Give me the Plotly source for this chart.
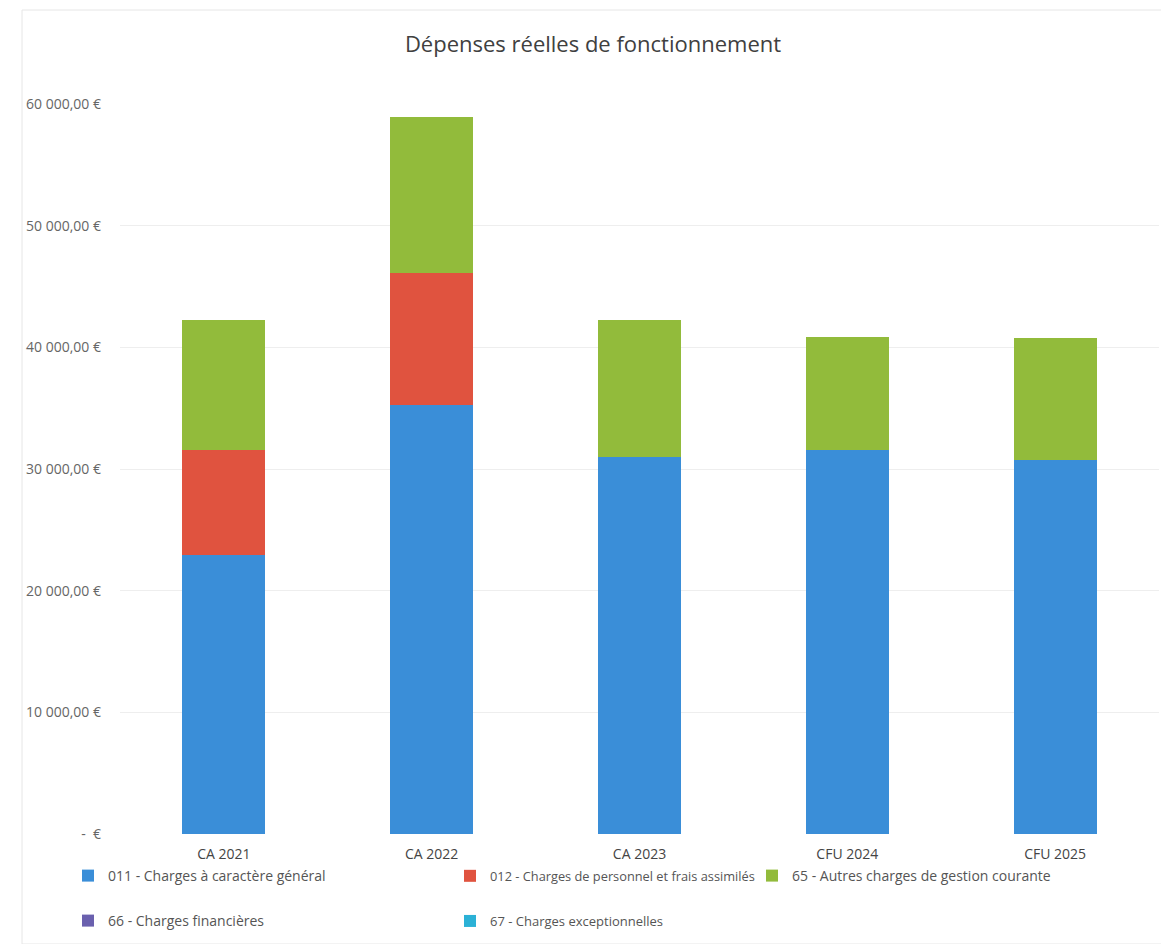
import plotly.graph_objects as go

categories = ["CA 2021", "CA 2022", "CA 2023", "CFU 2024", "CFU 2025"]
series_names = [
    "011 - Charges à caractère général",
    "012 - Charges de personnel et frais assimilés",
    "65 - Autres charges de gestion courante",
    "66 - Charges financières",
    "67 - Charges exceptionnelles",
]
v011 = [22900, 35300, 30950, 31550, 30700]
v012 = [8650, 10800, 0, 0, 0]
v65 = [10700, 12800, 11300, 9300, 10100]
v66 = [0, 0, 0, 0, 0]
v67 = [0, 0, 0, 0, 0]
tick_vals = [0, 10000, 20000, 30000, 40000, 50000, 60000]
tick_text = ["-  €", "10 000,00 €", "20 000,00 €", "30 000,00 €",
             "40 000,00 €", "50 000,00 €", "60 000,00 €"]

colors = ["#3a8ed8", "#e0533f", "#92bb3b", "#6a60ae", "#2bb1d6"]
values = [v011, v012, v65, v66, v67]

OFF = 8  # page body margin
W, H = 1169 - OFF, 944 - OFF
# plot area in page pixel coordinates
PX0, PX1, PY0, PY1 = 120, 1159, 104, 834
L, R, T, B = PX0 - OFF, W - (PX1 - OFF), PY0 - OFF, H - (PY1 - OFF)
pw, ph = W - L - R, H - T - B

def px(x):
    return (x - OFF - L) / pw

def py(y):
    return (H - B - (y - OFF)) / ph

legend_pos = [(68, 876), (450, 876), (752, 876), (68, 921), (450, 921)]
legend_sizes = [14, 12.8, 14, 14, 13]
FONT = "Open Sans, Lato, sans-serif"

fig = go.Figure()
for i, (name, vals, col) in enumerate(zip(series_names, values, colors)):
    lg = "legend" if i == 0 else f"legend{i+1}"
    fig.add_trace(go.Bar(
        x=categories, y=vals, name=name, marker_color=col,
        marker_line_width=0, legend=lg, showlegend=True,
    ))

layout_legends = {}
for i, ((lx, ly), fs) in enumerate(zip(legend_pos, legend_sizes)):
    key = "legend" if i == 0 else f"legend{i+1}"
    layout_legends[key] = dict(
        x=px(lx), y=py(ly), xanchor="left", yanchor="middle",
        orientation="h", font=dict(family=FONT, size=fs, color="#555555"),
        bgcolor="rgba(0,0,0,0)", itemwidth=30, visible=True,
    )

fig.update_layout(
    width=W, height=H, showlegend=True,
    barmode="stack", bargap=0.6,
    paper_bgcolor="white", plot_bgcolor="white",
    margin=dict(l=L, r=R, t=T, b=B, autoexpand=False),
    title=dict(text="Dépenses réelles de fonctionnement", x=px(593), xref="paper",
               xanchor="center", y=1 - (44 - OFF) / H, yanchor="middle",
               font=dict(family=FONT, size=22, color="#404040")),
    font=dict(family=FONT),
    xaxis=dict(showgrid=False, showline=False, ticks="", ticklen=0,
               ticklabelstandoff=10,
               tickfont=dict(size=14, color="#444444"), automargin=False),
    yaxis=dict(range=[0, 60000], tickvals=tick_vals, ticktext=tick_text,
               showgrid=True, gridcolor="#eeeeee", gridwidth=1,
               zeroline=False, showline=False, ticks="", ticklabelstandoff=18,
               tickfont=dict(size=14, color="#666666"), automargin=False),
    **layout_legends,
)
fig.add_shape(type="rect", xref="paper", yref="paper",
              x0=px(22), x1=px(1169), y0=py(944), y1=py(10),
              line=dict(color="#e6e6e6", width=1), layer="below")

fig.write_html("out.html")
